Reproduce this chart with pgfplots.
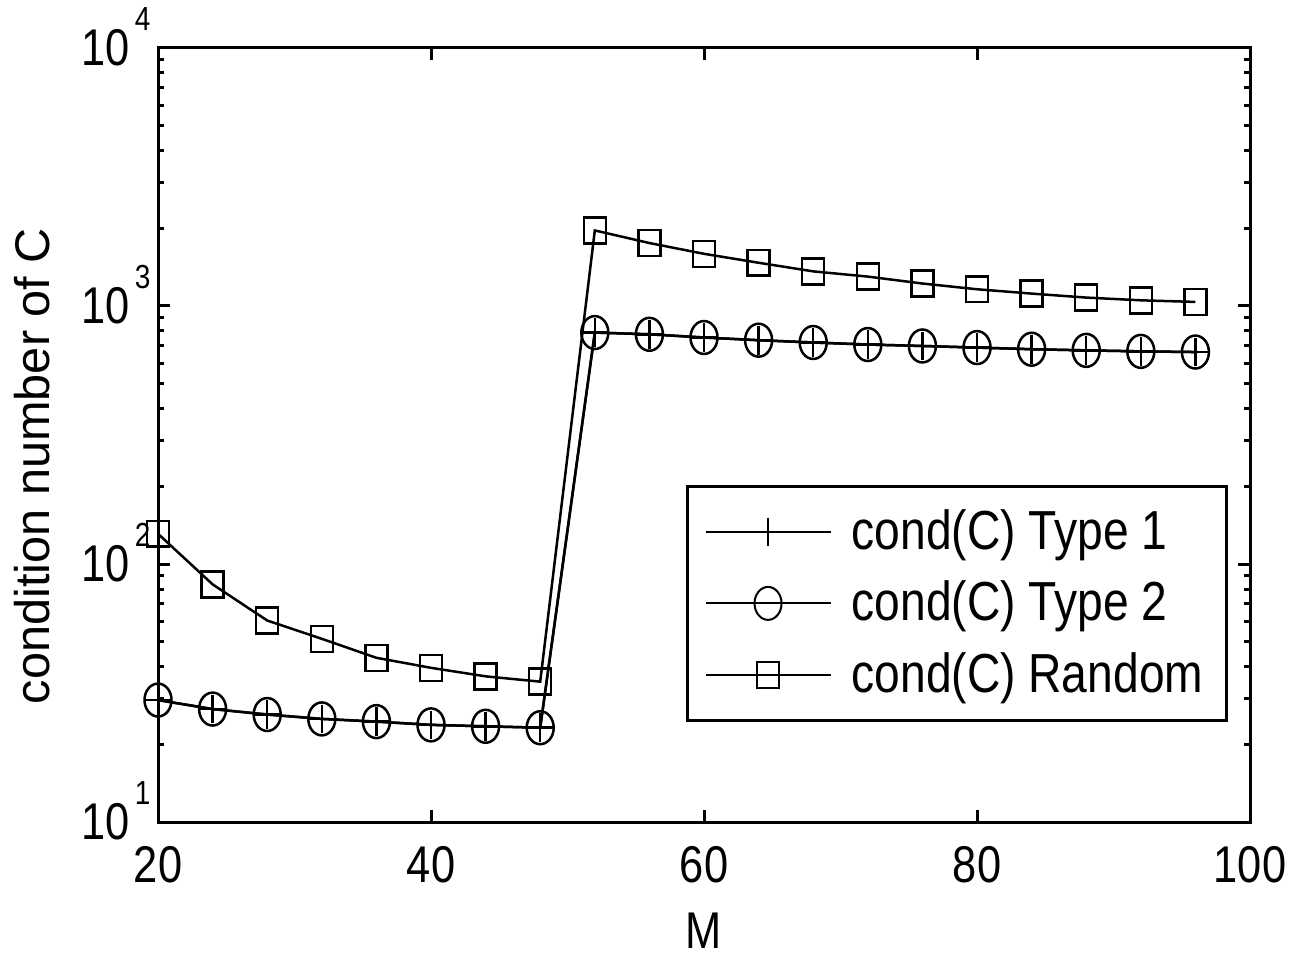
\documentclass[border=0pt]{standalone}
\usepackage{pgfplots}
\pgfplotsset{compat=1.18}
\usepackage{fontspec}
\setmainfont{Liberation Sans}
\newfontfamily\narrowfont{Liberation Sans}[FakeStretch=0.84]
\newcommand{\tickfont}{\narrowfont\fontsize{15.5}{18}\selectfont}
\newcommand{\pow}[1]{10\kern1.5pt\smash{\raisebox{10.5pt}{\narrowfont\fontsize{10}{10}\selectfont #1}}}

\pgfplotstableread{
M   t1     rnd
20  29.7   131
24  27.4   83.4
28  26.1   60.4
32  25.1   51.3
36  24.5   43.3
40  23.8   39.6
44  23.5   36.7
48  23.2   35.0
52  789    1963
56  777    1754
60  755    1593
64  737    1471
68  722    1362
72  709    1300
76  700    1222
80  690    1161
84  680    1117
88  673    1078
92  667    1052
96  663    1037
}\conddata

\begin{document}
\begin{tikzpicture}
\begin{axis}[
    scale only axis,
    width=327.6pt, height=232.2pt,
    xmin=20, xmax=100,
    ymode=log, ymin=10, ymax=10000,
    xtick={20,40,60,80,100},
    ytick={10,100,1000,10000},
    yticklabels={\pow{1},\pow{2},\pow{3},\pow{4}},
    minor ytick={20,30,40,50,60,70,80,90,200,300,400,500,600,700,800,900,2000,3000,4000,5000,6000,7000,8000,9000},
    /pgf/number format/assume math mode=true,
    tick align=inside,
    major tick length=3.6pt, minor tick length=1.8pt,
    axis line style={line width=0.9pt},
    every tick/.style={line width=0.9pt, black},
    xticklabel style={font=\tickfont, yshift=-3.8pt},
    yticklabel style={font=\tickfont, xshift=1.3pt},
    xlabel={M},
    xlabel style={font=\tickfont, at={(axis description cs:0.5,-0.1163)}, anchor=north, inner sep=0pt},
    ylabel={condition number of C},
    ylabel style={font=\fontsize{14.6}{17}\selectfont, at={(axis description cs:-0.0989,0.46)}, anchor=base, inner sep=0pt},
    legend style={at={(0.98,0.129)}, anchor=south east, draw=black, line width=0.9pt,
        font=\narrowfont\fontsize{16.5}{19}\selectfont, row sep=4pt,
        inner xsep=5pt, inner ysep=5pt,
        /tikz/every odd column/.append style={column sep=4pt}},
    legend cell align=left,
    legend image code/.code={\draw[line width=0.6pt, mark repeat=2, mark phase=2] plot coordinates {(0pt,0pt) (18.75pt,0pt) (37.5pt,0pt)};},
    every axis plot/.append style={black, line width=0.75pt, mark options={solid, line width=0.75pt}},
]
\addplot[mark=+, mark size=3.9pt, mark options={yscale=1.1}] table[x=M, y=t1] {\conddata};
\addplot[mark=o, mark size=4.05pt, mark options={yscale=1.22}] table[x=M, y=t1] {\conddata};
\addplot[mark=square, mark size=3.3pt, mark options={yscale=1.18}] table[x=M, y=rnd] {\conddata};
\legend{cond(C) Type 1, cond(C) Type 2, cond(C) Random}
\coordinate (sw) at (rel axis cs:0,0);
\coordinate (ne) at (rel axis cs:1,1);
\end{axis}
\pgfresetboundingbox
\useasboundingbox ([shift={(-47.4pt,-39.6pt)}]sw) rectangle ([shift={(14.4pt,14.4pt)}]ne);
\end{tikzpicture}
\end{document}
